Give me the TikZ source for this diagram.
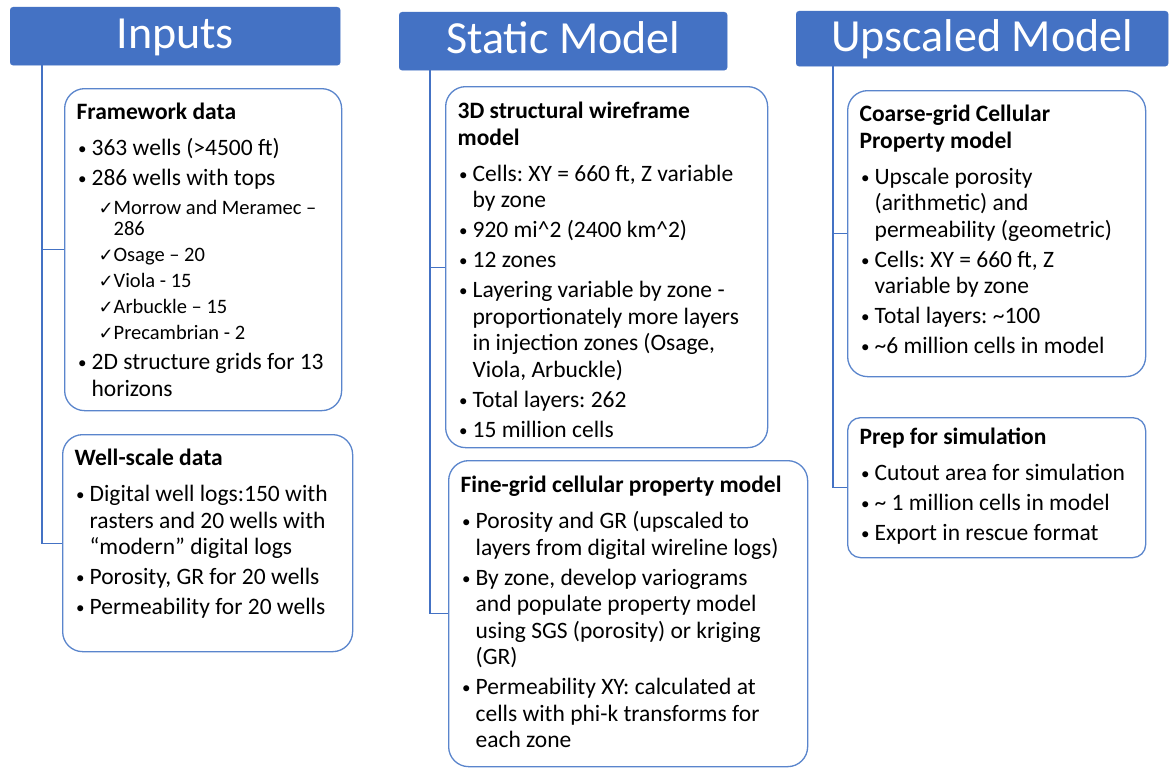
\documentclass[tikz,border=0pt]{standalone}
\usepackage{fontspec}
\setmainfont{Carlito}
\newfontfamily\symfont{DejaVu Sans}
\frenchspacing
\definecolor{hblue}{HTML}{4472C4}
\definecolor{lblue}{HTML}{5A85CC}
\newcommand{\pnl}[3]{\parbox[t][#2][t]{#1}{\raggedright\frenchspacing #3}}
\newcommand{\ttl}[1]{\noindent{\bfseries\rule{0pt}{21pt}#1\par}\vspace{6pt}}
\newcommand{\itm}[1]{\par\vspace{3.5pt}\hangindent=15pt\hangafter=1\noindent\makebox[15pt][l]{\hspace{1.5pt}\raisebox{1pt}{\fontsize{17}{17}\selectfont\textbullet}}#1\par}
\newcommand{\chk}[1]{\par\vspace{5pt}{\fontsize{20.5}{21}\selectfont\hangindent=37pt\hangafter=1\noindent\hspace*{22pt}\makebox[15pt][l]{\symfont\fontsize{18}{18}\selectfont ✓}#1\par}}
\tikzset{
  hdr/.style={fill=hblue, draw=hblue, rounded corners=3pt, text=white, anchor=north west, inner sep=0pt,
    text height=25pt, text depth=0pt, font=\fontsize{46}{50}\selectfont},
  panel/.style={draw=lblue, line width=1.3pt, rounded corners=20pt, fill=white, anchor=north west,
    inner xsep=12pt, inner ysep=10pt, font=\fontsize{23.5}{26.5}\selectfont},
  spine/.style={draw=hblue, line width=1.3pt}
}
\begin{document}
\begin{tikzpicture}[x=1pt, y=-1pt]
  \fill[white] (0,0) rectangle (1169,768);
  \useasboundingbox (0,0) rectangle (1169,768);
  \node [hdr, minimum width=330pt, minimum height=58pt] (inputs) at (10,7) {Inputs};
  \node [hdr, minimum width=328pt, minimum height=58pt] (static) at (399,12) {Static Model};
  \node [hdr, minimum width=372pt, minimum height=55pt] (upscaled) at (796,11) {Upscaled Model};

  \node [panel] (frame) at (64,88) {\pnl{253pt}{302pt}{\ttl{Framework data}
    \itm{363 wells (>4500 ft)}
    \itm{286 wells with tops}
    \vspace{3pt}
    \chk{Morrow and Meramec –\newline 286}
    \chk{Osage – 20}
    \chk{Viola - 15}
    \chk{Arbuckle – 15}
    \chk{Precambrian - 2}
    \itm{2D structure grids for 13\newline horizons}}};
  \node [panel] (well) at (62,434) {\pnl{266pt}{197pt}{\ttl{Well-scale data}
    \itm{Digital well logs:150 with\newline rasters and 20 wells with\newline “modern” digital logs}
    \itm{Porosity, GR for 20 wells}
    \itm{Permeability for 20 wells}}};

  \node [panel] (wire) at (445,86) {\pnl{298pt}{341pt}{\vspace*{1pt}\ttl{3D structural wireframe\newline model}
    \itm{Cells: XY = 660 ft, Z variable\newline by zone}
    \itm{920 mi\textasciicircum 2 (2400 km\textasciicircum 2)}
    \itm{12 zones}
    \itm{Layering variable by zone -\newline proportionately more layers\newline in injection zones (Osage,\newline Viola, Arbuckle)}
    \itm{Total layers: 262}
    \itm{15 million cells}}};
  \node [panel] (fine) at (448,460) {\pnl{335pt}{286pt}{\vspace*{1pt}\ttl{Fine-grid cellular property model}
    \itm{Porosity and GR (upscaled to\newline layers from digital wireline logs)}
    \itm{By zone, develop variograms\newline and populate property model\newline using SGS (porosity) or kriging\newline (GR)}
    \itm{Permeability XY: calculated at\newline cells with phi-k transforms for\newline each zone}}};

  \node [panel] (coarse) at (847,90) {\pnl{274pt}{266pt}{\ttl{Coarse-grid Cellular\newline Property model}
    \itm{Upscale porosity\newline (arithmetic) and\newline permeability (geometric)}
    \itm{Cells: XY = 660 ft, Z\newline variable by zone}
    \itm{Total layers: \textasciitilde 100}
    \itm{\textasciitilde 6 million cells in model}}};
  \node [panel, rounded corners=13pt] (prep) at (847,417) {\pnl{274pt}{120pt}{\vspace*{-4pt}\ttl{Prep for simulation}
    \itm{Cutout area for simulation}
    \itm{\textasciitilde{} 1 million cells in model}
    \itm{Export in rescue format}}};

  \coordinate (inx) at (42,0);
  \coordinate (stx) at (430,0);
  \coordinate (upx) at (833,0);
  \draw [spine] (inputs.south -| inx) |- (well.west);
  \draw [spine] (inx |- frame.west) -- (frame.west);
  \draw [spine] (static.south -| stx) |- (fine.west);
  \draw [spine] (stx |- wire.west) -- (wire.west);
  \draw [spine] (upscaled.south -| upx) |- (prep.west);
  \draw [spine] (upx |- coarse.west) -- (coarse.west);
\end{tikzpicture}
\end{document}
